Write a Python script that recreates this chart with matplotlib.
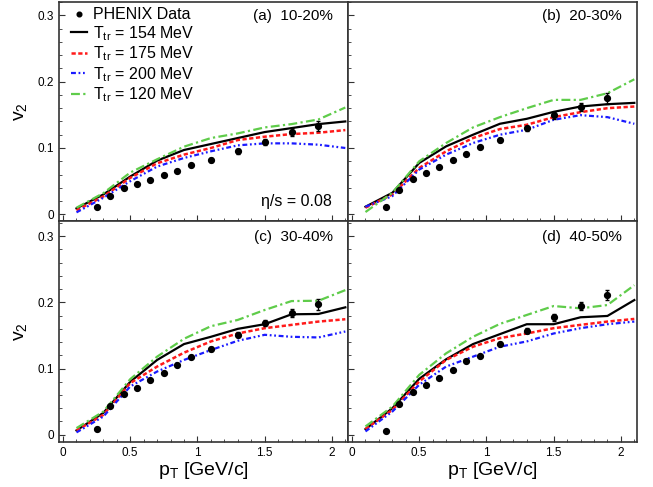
import numpy as np
import matplotlib
matplotlib.use("Agg")
import matplotlib.pyplot as plt
from matplotlib.ticker import MultipleLocator, FuncFormatter

plt.rcParams['font.family'] = ['Liberation Sans', 'DejaVu Sans']
plt.rcParams['mathtext.fontset'] = 'custom'
plt.rcParams['mathtext.rm'] = 'Liberation Sans'
plt.rcParams['mathtext.it'] = 'Liberation Sans:italic'

# PHENIX data points
data_pt = [0.25, 0.35, 0.45, 0.55, 0.65, 0.75, 0.85, 0.95, 1.1, 1.3, 1.5, 1.7, 1.9]
data_err = [0, 0, 0, 0, 0, 0, 0, 0, 0.003, 0.004, 0.005, 0.006, 0.008]
data_a = [0.011, 0.027, 0.039, 0.046, 0.0525, 0.060, 0.066, 0.0745, 0.082, 0.095, 0.109, 0.124, 0.133]
data_b = [0.011, 0.037, 0.0535, 0.063, 0.0715, 0.082, 0.0915, 0.101, 0.1125, 0.1295, 0.149, 0.1615, 0.175]
data_c = [0.0085, 0.043, 0.061, 0.071, 0.082, 0.0935, 0.105, 0.117, 0.130, 0.151, 0.169, 0.184, 0.197]
data_d = [0.006, 0.046, 0.064, 0.0745, 0.0855, 0.0975, 0.112, 0.1195, 0.1375, 0.157, 0.1775, 0.1945, 0.211]

# hydro curves
pt = [0.1, 0.3, 0.5, 0.7, 0.9, 1.1, 1.3, 1.5, 1.7, 1.9, 2.1]

t154_a = [0.009, 0.030, 0.057, 0.081, 0.097, 0.106, 0.115, 0.124, 0.130, 0.136, 0.140]
t175_a = [0.006, 0.027, 0.055, 0.077, 0.090, 0.100, 0.112, 0.117, 0.121, 0.123, 0.127]
t200_a = [0.003, 0.025, 0.050, 0.072, 0.085, 0.095, 0.104, 0.107, 0.107, 0.105, 0.100]
t120_a = [0.010, 0.032, 0.063, 0.083, 0.102, 0.115, 0.122, 0.131, 0.136, 0.143, 0.161]

t154_b = [0.0115, 0.0325, 0.0775, 0.1025, 0.120, 0.1365, 0.144, 0.1545, 0.1625, 0.166, 0.168]
t175_b = [0.010, 0.030, 0.070, 0.095, 0.115, 0.1285, 0.135, 0.1465, 0.154, 0.160, 0.1625]
t200_b = [0.0115, 0.0275, 0.0675, 0.090, 0.1075, 0.120, 0.1275, 0.1425, 0.1495, 0.1465, 0.1365]
t120_b = [0.0035, 0.0325, 0.080, 0.1075, 0.131, 0.1465, 0.160, 0.1725, 0.1725, 0.1825, 0.2035]

t154_c = [0.0065, 0.033, 0.080, 0.113, 0.137, 0.148, 0.160, 0.167, 0.182, 0.1825, 0.1925]
t175_c = [0.0065, 0.030, 0.078, 0.103, 0.124, 0.141, 0.153, 0.161, 0.166, 0.171, 0.1745]
t200_c = [0.0035, 0.0275, 0.073, 0.0955, 0.113, 0.128, 0.142, 0.151, 0.148, 0.147, 0.156]
t120_c = [0.010, 0.035, 0.084, 0.118, 0.145, 0.164, 0.1735, 0.1885, 0.202, 0.2025, 0.2185]

t154_d = [0.0085, 0.040, 0.0845, 0.114, 0.137, 0.152, 0.167, 0.167, 0.1775, 0.1795, 0.2035]
t175_d = [0.0085, 0.0375, 0.0805, 0.113, 0.133, 0.146, 0.153, 0.161, 0.166, 0.171, 0.175]
t200_d = [0.005, 0.035, 0.0755, 0.103, 0.118, 0.133, 0.141, 0.153, 0.161, 0.167, 0.171]
t120_d = [0.0125, 0.0425, 0.0905, 0.123, 0.148, 0.1675, 0.181, 0.1945, 0.191, 0.196, 0.226]

labels = ["(a)  10-20%", "(b)  20-30%", "(c)  30-40%", "(d)  40-50%"]

fig = plt.figure(figsize=(6.53, 4.87), dpi=100)
W, H = 653, 487
x0, xm, x1 = 59, 348, 637
y0, ym, y1 = 2, 221, 442

boxes = [
    (x0, y0, xm, ym), (xm, y0, x1, ym),
    (x0, ym, xm, y1), (xm, ym, x1, y1),
]
axes = []
for (l, t, r, b) in boxes:
    axes.append(fig.add_axes([l / W, 1 - b / H, (r - l) / W, (b - t) / H]))

panels = [
    (data_a, t154_a, t175_a, t200_a, t120_a),
    (data_b, t154_b, t175_b, t200_b, t120_b),
    (data_c, t154_c, t175_c, t200_c, t120_c),
    (data_d, t154_d, t175_d, t200_d, t120_d),
]

red_dash = (0, (1.7, 1.0))
blue_dash = (0, (2.2, 1.2, 0.8, 1.2, 0.8, 1.2))
green_dash = (0, (4, 1.5, 1, 1.5))

for i, ax in enumerate(axes):
    d, c154, c175, c200, c120 = panels[i]
    # error bars only where they were visible
    ex = [p for p, e in zip(data_pt, data_err) if e > 0]
    ey = [v for v, e in zip(d, data_err) if e > 0]
    ee = [e for e in data_err if e > 0]
    ax.errorbar(ex, ey, yerr=ee, fmt='none', ecolor='black', elinewidth=1,
                capsize=1.5, zorder=5)
    ax.plot(data_pt, d, 'o', color='black', ms=4.2, ls='none',
            label='PHENIX Data', zorder=6)
    ax.plot(pt, c154, color='black', lw=1.6, label=r'T$_{\rm tr}$ = 154 MeV')
    ax.plot(pt, c175, color='#ff1a1a', lw=1.8, ls=red_dash,
            label=r'T$_{\rm tr}$ = 175 MeV')
    ax.plot(pt, c200, color='#1a1aff', lw=1.6, ls=blue_dash,
            label=r'T$_{\rm tr}$ = 200 MeV')
    ax.plot(pt, c120, color='#5fcc4a', lw=1.6, ls=green_dash,
            label=r'T$_{\rm tr}$ = 120 MeV')

    ax.set_xlim(-0.03, 2.12)
    if i < 2:
        ax.set_ylim(-0.01, 0.32)
    else:
        ax.set_ylim(-0.011, 0.323)
    ax.xaxis.set_major_locator(MultipleLocator(0.5))
    ax.xaxis.set_minor_locator(MultipleLocator(0.1))
    ax.yaxis.set_major_locator(MultipleLocator(0.1))
    ax.yaxis.set_minor_locator(MultipleLocator(0.02))
    ax.tick_params(which='both', direction='in', labelsize=8.5, color='#333333')
    ax.tick_params(which='major', length=4)
    ax.tick_params(which='minor', length=2)
    ax.xaxis.set_major_formatter(FuncFormatter(lambda v, p: f"{v:g}"))
    ax.yaxis.set_major_formatter(FuncFormatter(lambda v, p: f"{v:g}"))
    for s in ax.spines.values():
        s.set_color('#333333')
        s.set_linewidth(1.2)
    if i < 2:
        ax.tick_params(labelbottom=False)
    else:
        ax.set_xlabel(r'p$_{\rm T}$ [GeV/c]', fontsize=14, labelpad=1)
    if i % 2 == 1:
        ax.tick_params(labelleft=False)
    else:
        ax.set_ylabel(r'v$_{\rm 2}$', fontsize=14, labelpad=6)

    ty = 0.935 if i < 2 else 0.928
    ax.text(0.948, ty, labels[i], transform=ax.transAxes, ha='right',
            va='center', fontsize=11)

axes[0].text(0.945, 0.087, "η/s = 0.08", transform=axes[0].transAxes,
             ha='right', va='center', fontsize=11.5)

axes[0].legend(loc='upper left', bbox_to_anchor=(0.01, 1.02), frameon=False,
               fontsize=11.5, handlelength=1.0, handletextpad=0.35,
               labelspacing=0.11, borderaxespad=0.2, numpoints=1,
               markerscale=0.8)

fig.savefig("out.png", dpi=100)
